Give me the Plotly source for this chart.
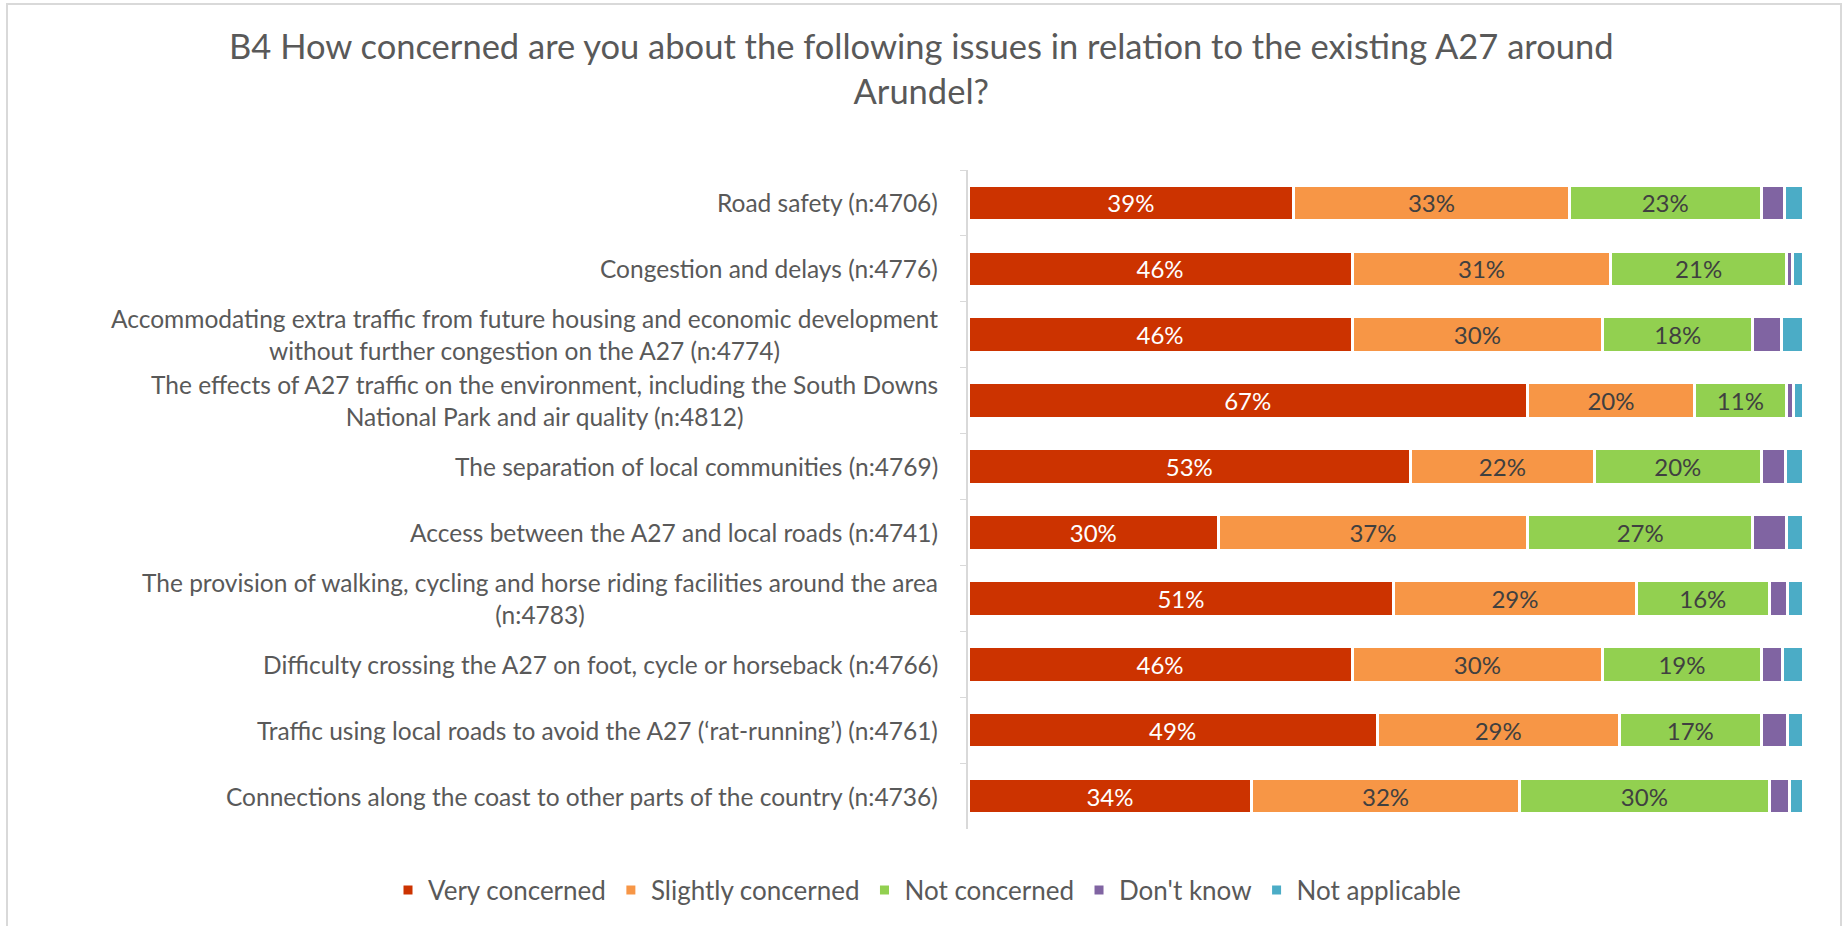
import plotly.graph_objects as go

# Survey question B4: concern about issues with the existing A27 around Arundel
categories = [
    "Road safety (n:4706)",
    "Congestion and delays (n:4776)",
    "Accommodating extra traffic from future housing and economic development<br>without further congestion on the A27 (n:4774)",
    "The effects of A27 traffic on the environment, including the South Downs<br>National Park and air quality (n:4812)",
    "The separation of local communities (n:4769)",
    "Access between the A27 and local roads (n:4741)",
    "The provision of walking, cycling and horse riding facilities around the area<br>(n:4783)",
    "Difficulty crossing the A27 on foot, cycle or horseback (n:4766)",
    "Traffic using local roads to avoid the A27 (\u2018rat-running\u2019) (n:4761)",
    "Connections along the coast to other parts of the country (n:4736)",
]

very_concerned = [39, 46, 46, 67, 53, 30, 51, 46, 49, 34]
slightly_concerned = [33, 31, 30, 20, 22, 37, 29, 30, 29, 32]
not_concerned = [23, 21, 18, 11, 20, 27, 16, 19, 17, 30]
dont_know = [2.8, 0.8, 3.4, 0.9, 2.9, 4.0, 2.1, 2.5, 3.1, 2.4]
not_applicable = [2.2, 1.2, 2.6, 1.1, 2.1, 2.0, 1.9, 2.5, 1.9, 1.6]

series = [
    ("Very concerned", very_concerned, "#CC3300", "#FFFFFF", True),
    ("Slightly concerned", slightly_concerned, "#F79646", "#404040", True),
    ("Not concerned", not_concerned, "#92D050", "#404040", True),
    ("Don't know", dont_know, "#8064A2", "#404040", False),
    ("Not applicable", not_applicable, "#4BACC6", "#404040", False),
]

TITLE = ("B4 How concerned are you about the following issues in relation to the existing A27 around"
         "<br>Arundel?")

FONT = "Lato, Carlito, 'Open Sans', sans-serif"
TEXT_GREY = "#595959"

# pixel geometry of the plotting area
W, H = 1843, 926
L, R, T, B = 968, 40, 170, 97
PW = W - L - R
PH = H - T - B


def px_x(px):
    return (px - L) / PW


def px_y(py):
    return (H - B - py) / PH


fig = go.Figure()
for name, vals, color, tcolor, labelled in series:
    fig.add_trace(go.Bar(
        name=name,
        y=categories,
        x=vals,
        orientation="h",
        marker=dict(color=color, line=dict(color="#FFFFFF", width=3)),
        text=[f"{v:.0f}%" for v in vals] if labelled else None,
        textposition="inside" if labelled else "none",
        insidetextanchor="middle",
        textangle=0,
        insidetextfont=dict(family=FONT, size=24, color=tcolor),
        hoverinfo="name+x",
    ))

# category labels, centred line by line and right-aligned as a block
for cat in categories:
    fig.add_annotation(
        x=px_x(940), xref="paper", xanchor="right",
        y=cat, yref="y", yanchor="middle",
        text=cat, align="center", showarrow=False,
        font=dict(family=FONT, size=24.5, color=TEXT_GREY),
    )

# chart title
fig.add_annotation(
    x=px_x(921), xref="paper", xanchor="center",
    y=px_y(68), yref="paper", yanchor="middle",
    text=TITLE, align="center", showarrow=False,
    font=dict(family=FONT, size=34.5, color=TEXT_GREY),
)

# outer chart frame
fig.add_shape(
    type="rect", xref="paper", yref="paper",
    x0=px_x(7), x1=px_x(1841), y0=px_y(940), y1=px_y(4),
    line=dict(color="#D9D9D9", width=2), fillcolor="rgba(0,0,0,0)",
    layer="below",
)

fig.update_layout(
    width=W, height=H,
    margin=dict(l=L, r=R, t=T, b=B),
    paper_bgcolor="white",
    plot_bgcolor="white",
    barmode="stack",
    bargap=0.46,
    uniformtext=dict(mode=False),
    xaxis=dict(
        range=[0, 100], visible=False, fixedrange=True,
    ),
    yaxis=dict(
        autorange="reversed",
        showticklabels=False,
        showline=True, linecolor="#D9D9D9", linewidth=1.5,
        ticks="outside", tickson="boundaries", ticklen=6, tickcolor="#D9D9D9",
        showgrid=False, zeroline=False,
    ),
    legend=dict(
        orientation="h",
        x=px_x(388), xanchor="left",
        y=px_y(890), yanchor="middle",
        font=dict(family=FONT, size=26, color=TEXT_GREY),
        traceorder="normal",
        itemclick=False,
    ),
    showlegend=True,
)

fig.write_html("out.html")
